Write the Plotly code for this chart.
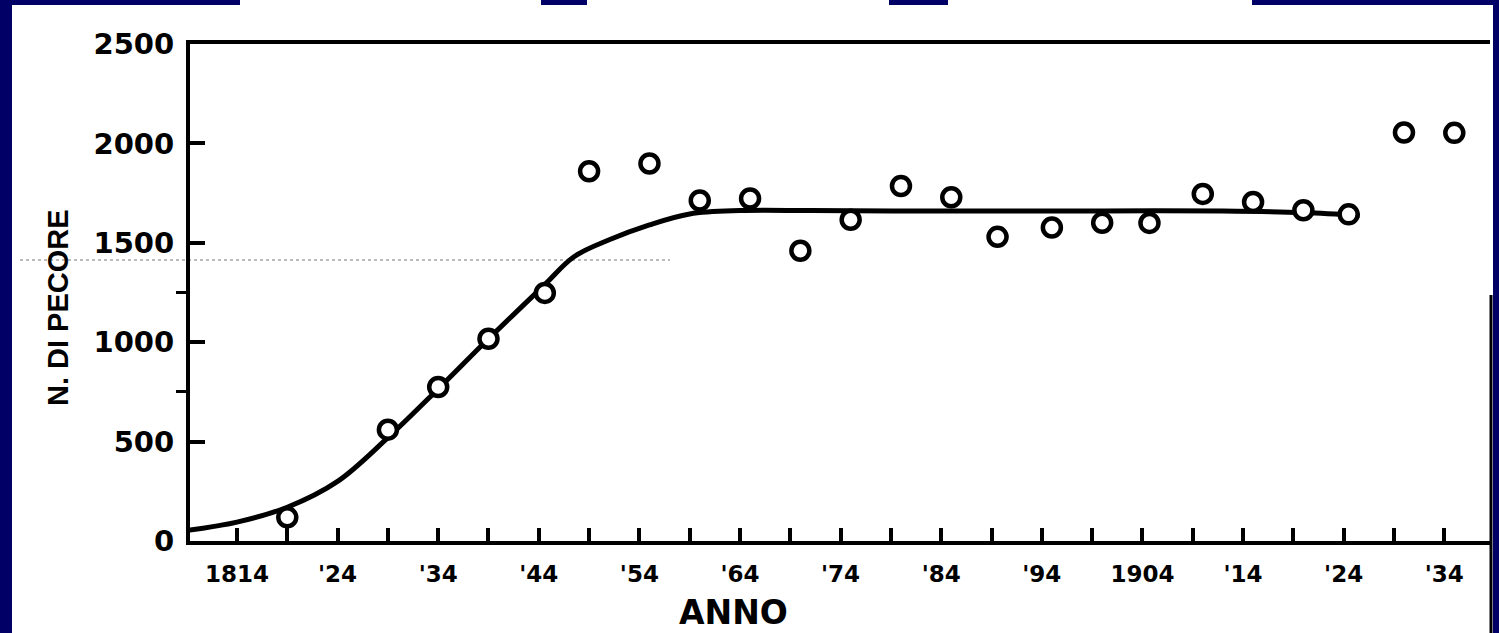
import plotly.graph_objects as go

# ---- data ----
obs_years = [1819, 1829, 1834, 1839, 1844.6, 1849, 1855, 1860, 1865, 1870,
             1875, 1880, 1885, 1889.6, 1895, 1900, 1904.7, 1910, 1915, 1920,
             1924.5, 1930, 1935]
obs_sheep = [119, 560, 775, 1017, 1248, 1860, 1899, 1713, 1723, 1460,
             1616, 1786, 1729, 1530, 1577, 1601, 1600, 1746, 1705, 1664,
             1643, 2055, 2053]

curve_years = [1809.3, 1814, 1819, 1824, 1829, 1834, 1839, 1844.5, 1847.5,
               1851, 1855, 1859, 1864, 1871, 1880, 1890, 1900, 1912, 1920, 1925.6]
curve_sheep = [55, 95, 170, 300, 520, 765, 1017, 1285, 1430,
               1515, 1590, 1645, 1662, 1662, 1660, 1660, 1660, 1660, 1652, 1636]

x_tickvals = [1814, 1824, 1834, 1844, 1854, 1864, 1874, 1884, 1894, 1904,
              1914, 1924, 1934]
x_ticktext = ["1814", "'24", "'34", "'44", "'54", "'64", "'74", "'84", "'94",
              "1904", "'14", "'24", "'34"]
y_tickvals = [0, 500, 1000, 1500, 2000, 2500]
y_ticktext = ["0", "500", "1000", "1500", "2000", "2500"]

NAVY = "#000066"

fig = go.Figure()
fig.add_trace(go.Scatter(
    x=curve_years, y=curve_sheep, mode="lines",
    line=dict(color="black", width=5, shape="spline", smoothing=1.0),
    hoverinfo="skip", showlegend=False))
fig.add_trace(go.Scatter(
    x=obs_years, y=obs_sheep, mode="markers",
    marker=dict(symbol="circle", size=18, color="white",
                line=dict(color="black", width=4.5)),
    showlegend=False))

W, H = 1499, 633
L, R, T, B = 190, 9, 44, 92
pw, ph = W - L - R, H - T - B


def px(xp):
    return (xp - L) / pw


def py(yp):
    return (H - B - yp) / ph


shapes = []
# navy frame pieces of the slide
for x0, x1, y0, y1 in [(0, 12, 0, 633), (1493, 1499, 0, 633),
                       (0, 240, 0, 5), (541, 587, 0, 5),
                       (889, 948, 0, 5), (1252, 1499, 0, 5)]:
    shapes.append(dict(type="rect", xref="paper", yref="paper",
                       x0=px(x0), x1=px(x1), y0=py(y1), y1=py(y0),
                       fillcolor=NAVY, line=dict(width=0), layer="above"))
# right border stroke of the scanned page
shapes.append(dict(type="line", xref="paper", yref="paper",
                   x0=px(1491), x1=px(1491), y0=py(295), y1=py(633),
                   line=dict(color="black", width=3)))
# faint scan line
shapes.append(dict(type="line", xref="paper", yref="paper",
                   x0=px(20), x1=px(670), y0=py(260), y1=py(260),
                   line=dict(color="#777777", width=1, dash="dot"),
                   layer="below"))

fig.update_layout(
    width=W, height=H,
    margin=dict(l=L, r=R, t=T, b=B, pad=0),
    paper_bgcolor="white", plot_bgcolor="white",
    shapes=shapes,
    annotations=[
        dict(text="<b>N. DI PECORE</b>", xref="paper", yref="paper",
             x=px(58), y=py(308), textangle=-90, showarrow=False,
             xanchor="center", yanchor="middle",
             font=dict(family="Liberation Sans", size=29, color="black")),
        dict(text="<b>ANNO</b>", xref="paper", yref="paper",
             x=px(733), y=py(612), showarrow=False,
             xanchor="center", yanchor="middle",
             font=dict(family="DejaVu Sans", size=33, color="black")),
    ],
)
fig.update_xaxes(
    range=[1809.33, 1938.55], showgrid=False, zeroline=False,
    showline=True, linecolor="black", linewidth=4, mirror=True,
    tickmode="array", tickvals=x_tickvals, ticktext=x_ticktext,
    ticks="inside", ticklen=13, tickwidth=4, tickcolor="black",
    ticklabelstandoff=9,
    tickfont=dict(family="DejaVu Sans", size=23, color="black", weight="bold"),
    minor=dict(tick0=1814, dtick=5, ticks="inside", ticklen=13, tickwidth=4,
               tickcolor="black", showgrid=False),
)
fig.update_yaxes(
    range=[0, 2500], showgrid=False, zeroline=False,
    showline=True, linecolor="black", linewidth=4, mirror=False,
    tickmode="array", tickvals=y_tickvals, ticktext=y_ticktext,
    ticks="inside", ticklen=15, tickwidth=4, tickcolor="black",
    ticklabelstandoff=6,
    tickfont=dict(family="DejaVu Sans", size=29, color="black", weight="bold"),
    minor=dict(tickvals=[750, 1250], ticks="outside", ticklen=10, tickwidth=3,
               tickcolor="black", showgrid=False),
)

fig.write_html("out.html",
               config={"displayModeBar": False},
               post_script="document.body.style.margin='0';"
                           "document.body.style.overflow='hidden';")
